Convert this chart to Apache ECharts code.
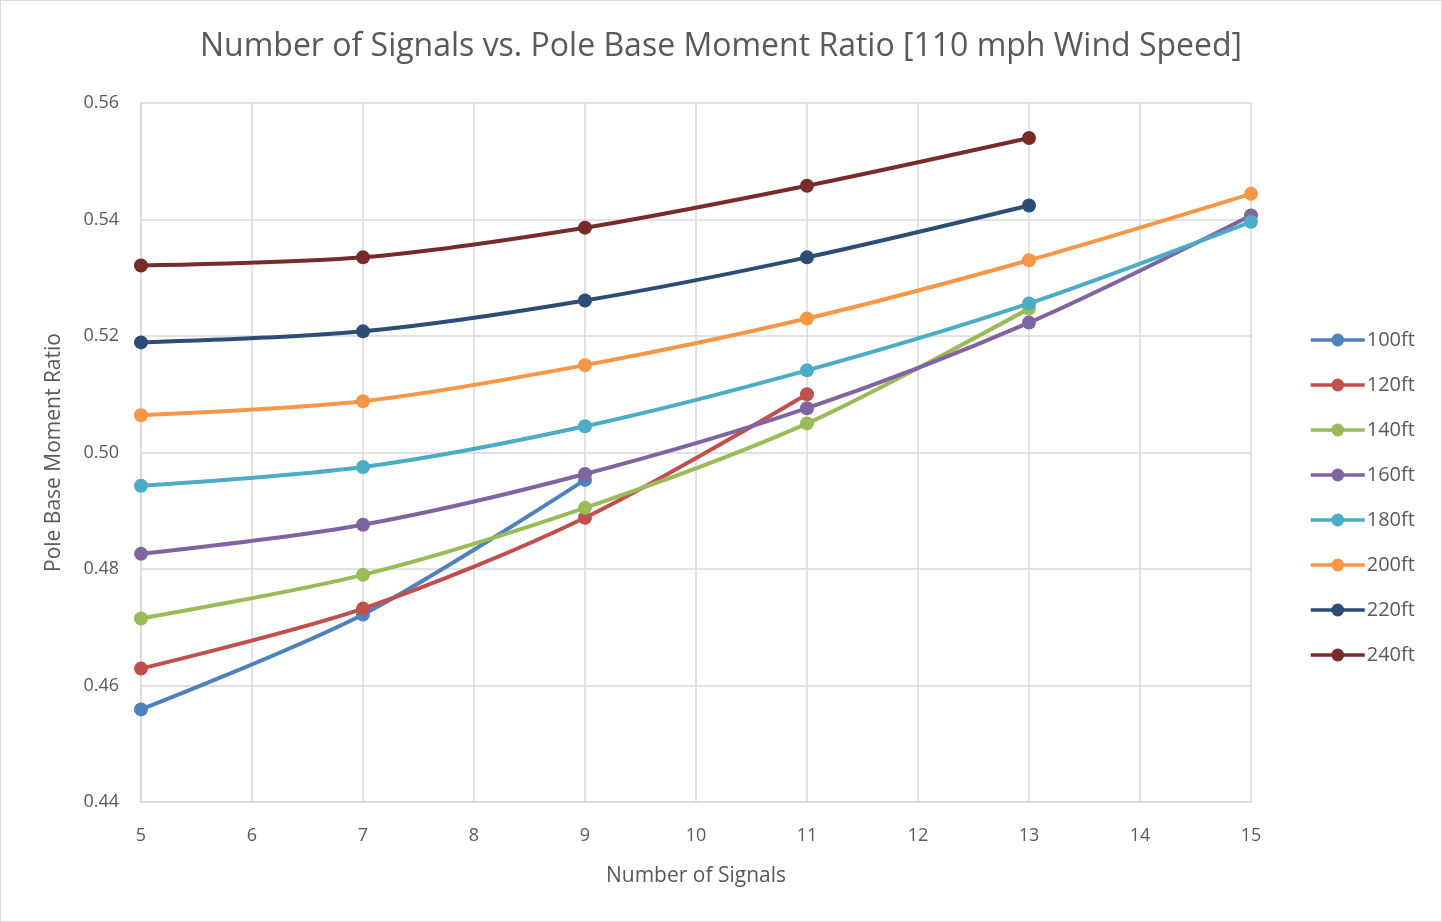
<!DOCTYPE html>
<html><head><meta charset="utf-8">
<script src="https://cdn.jsdelivr.net/npm/echarts@6/dist/echarts.min.js"></script>
<style>html,body{margin:0;padding:0;background:#fff}#c{width:1442px;height:922px;box-sizing:border-box;border:1px solid #d9d9d9}</style>
</head><body><div id="c"></div>
<script>
const xValues = [5, 7, 9, 11, 13, 15];
const seriesNames = ['100ft','120ft','140ft','160ft','180ft','200ft','220ft','240ft'];
const s100 = [0.4559, 0.4722, 0.4953];
const s120 = [0.4629, 0.4732, 0.4888, 0.5100];
const s140 = [0.4715, 0.4790, 0.4905, 0.5050, 0.5247];
const s160 = [0.4826, 0.4876, 0.4963, 0.5076, 0.5223, 0.5407];
const s180 = [0.4943, 0.4975, 0.5045, 0.5141, 0.5256, 0.5396];
const s200 = [0.5064, 0.5088, 0.5150, 0.5230, 0.5330, 0.5444];
const s220 = [0.5189, 0.5208, 0.5261, 0.5335, 0.5424];
const s240 = [0.5321, 0.5335, 0.5386, 0.5458, 0.5540];
const yTicks = [0.44, 0.46, 0.48, 0.50, 0.52, 0.54, 0.56];
const colors = ['#4F81BD','#C0504D','#9BBB59','#8064A2','#4BACC6','#F79646','#2C4D75','#772C2A'];
const allData = [s100, s120, s140, s160, s180, s200, s220, s240];

const chart = echarts.init(document.getElementById('c'));
const font = '"Open Sans", sans-serif';
chart.setOption({
  animation: false,
  color: colors,
  textStyle: {fontFamily: font},
  title: {text: 'Number of Signals vs. Pole Base Moment Ratio [110 mph Wind Speed]', left: 'center', top: 25,
    textStyle: {fontFamily: font, fontSize: 32, fontWeight: 'normal', color: '#595959'}},
  grid: {left: 140, right: 190, top: 102, bottom: 119},
  legend: {orient: 'vertical', left: 1303, top: 322, itemGap: 21, itemWidth: 54, itemHeight: 16,
    lineStyle: {width: 3.5},
    textStyle: {fontSize: 20, color: '#595959', padding: [0,0,0,-3], lineHeight: 24}, data: seriesNames},
  xAxis: {type: 'value', min: 5, max: 15, interval: 1,
    name: 'Number of Signals', nameLocation: 'middle', nameGap: 64,
    nameTextStyle: {fontSize: 21, color: '#595959'},
    axisLine: {lineStyle: {color: '#d9d9d9', width: 1.5}}, axisTick: {show: false},
    axisLabel: {fontSize: 18, color: '#595959', margin: 25},
    splitLine: {show: true, lineStyle: {color: '#d9d9d9', width: 1.5}}},
  yAxis: {type: 'value', min: yTicks[0], max: yTicks[yTicks.length-1], interval: 0.02,
    name: 'Pole Base Moment Ratio', nameLocation: 'middle', nameGap: 76,
    nameTextStyle: {fontSize: 21, color: '#595959'},
    axisLine: {show: true, lineStyle: {color: '#d9d9d9', width: 1.5}}, axisTick: {show: false},
    axisLabel: {fontSize: 18, color: '#595959', margin: 22, formatter: v => v.toFixed(2)},
    splitLine: {show: true, lineStyle: {color: '#d9d9d9', width: 1.5}}},
  series: seriesNames.map((n, i) => ({
    name: n, type: 'line', smooth: 0.3, symbol: 'circle', symbolSize: 14,
    lineStyle: {width: 4, color: colors[i]}, itemStyle: {color: colors[i]},
    data: allData[i].map((v, j) => [xValues[j], v])
  }))
});
</script></body></html>
